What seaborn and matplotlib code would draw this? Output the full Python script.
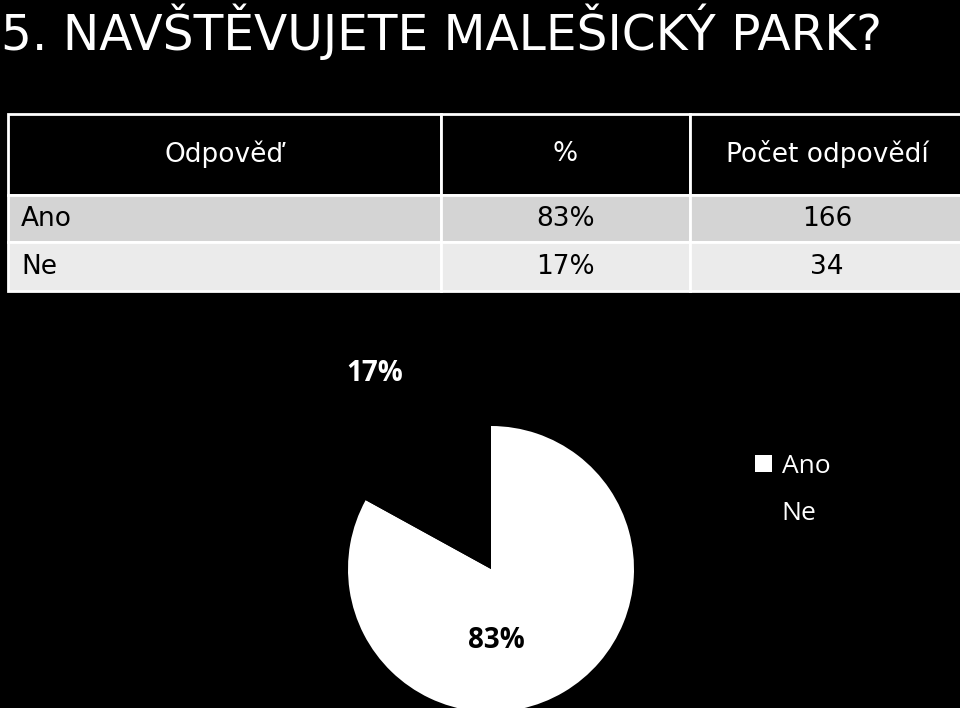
import matplotlib
import matplotlib.pyplot as plt
import seaborn as sns

matplotlib.use("Agg")

# data
title = "5. NAVŠTĚVUJETE MALEŠICKÝ PARK?"
col_labels = ["Odpověď", "%", "Počet odpovědí"]
answers = ["Ano", "Ne"]
percents = [83, 17]
counts = [166, 34]
pie_colors = ["white", "black"]

sns.set_theme(style="dark")
plt.rcParams["font.family"] = ["DejaVu Sans"]

W, H = 960, 708
fig = plt.figure(figsize=(W / 100, H / 100), dpi=100, facecolor="black")

# title
fig.text(1 / W, 1 - 32 / H, title, color="white", fontsize=35,
         ha="left", va="center", family=["DejaVu Sans"])

# table
ax_tab = fig.add_axes([8 / W, 1 - 291 / H, 956 / W, 177 / H])
ax_tab.axis("off")
cells = [[a, f"{p}%", str(c)] for a, p, c in zip(answers, percents, counts)]
tab = ax_tab.table(cellText=cells, colLabels=col_labels,
                   colWidths=[433, 249, 274], bbox=[0, 0, 1, 1])
tab.auto_set_font_size(False)
row_h = [80, 47, 48]
row_bg = ["black", "#d4d4d4", "#ebebeb"]
for (r, c), cell in tab.get_celld().items():
    cell.set_height(row_h[r])
    cell.set_facecolor(row_bg[r])
    cell.set_edgecolor("white")
    cell.set_linewidth(2)
    txt = cell.get_text()
    txt.set_fontsize(19)
    txt.set_color("white" if r == 0 else "black")
    if r > 0 and c == 0:
        cell.set_text_props(ha="left")
        cell.PAD = 0.03
    else:
        txt.set_ha("center")

# pie
cx, cy, rad = 491, 569, 143
ax_pie = fig.add_axes([(cx - rad) / W, 1 - (cy + rad) / H, 2 * rad / W, 2 * rad / H])
ax_pie.set_facecolor("black")
wedges, _, autotexts = ax_pie.pie(
    percents, colors=pie_colors, startangle=90, counterclock=False,
    autopct="%1.0f%%", radius=1,
    wedgeprops=dict(linewidth=0),
    textprops=dict(fontsize=20, fontweight="bold", family=["Open Sans", "DejaVu Sans"]),
)
ax_pie.set_xlim(-1, 1)
ax_pie.set_ylim(-1, 1)
ax_pie.set_aspect("equal")
ax_pie.axis("off")
autotexts[0].set_position((0.04, -0.50))
autotexts[0].set_color("black")
autotexts[1].set_position((-0.81, 1.37))
autotexts[1].set_color("white")
autotexts[1].set_clip_on(False)

leg = fig.legend(wedges, answers, loc="center left",
                 bbox_to_anchor=(742 / W, 1 - 490 / H), frameon=False,
                 handlelength=0.65, handleheight=0.65, handletextpad=0.35,
                 labelspacing=0.85, borderpad=0,
                 prop=dict(family=["Open Sans", "DejaVu Sans"], size=19))
for t in leg.get_texts():
    t.set_color("white")

fig.savefig("out.png", dpi=100, facecolor="black")
